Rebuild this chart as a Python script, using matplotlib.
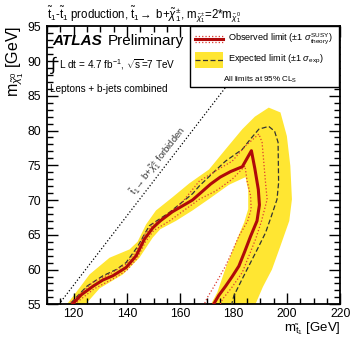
"""
ATLAS stop -> b + chargino exclusion limit (leptons + b-jets combined)
"""

import matplotlib
matplotlib.use("Agg")
import matplotlib.pyplot as plt
from matplotlib.patches import Polygon, Rectangle
from matplotlib.lines import Line2D
from matplotlib.ticker import MultipleLocator

# ==================== Data ====================

# yellow +-1 sigma expected band (closed outline)
band_x = [117.5, 122.3, 126.0, 133.5, 141.0, 144.0, 147.2, 150.9, 157.1, 163.4, 170.8,
          177.0, 183.3, 188.0, 193.2, 197.6, 200.0, 201.3, 201.9, 200.9, 197.5, 194.4,
          191.0, 188.2, 171.5, 173.9, 177.0, 182.0, 184.0, 185.5, 185.5, 184.5, 178.3,
          171.0, 164.6, 158.4, 152.5, 149.7, 144.7, 138.5, 129.8, 124.5]
band_y = [55.0, 57.4, 59.3, 61.7, 62.9, 64.0, 66.5, 68.5, 70.4, 72.4, 74.4,
          77.3, 80.2, 82.0, 83.3, 82.6, 79.2, 74.9, 70.1, 67.0, 63.3, 60.0,
          57.5, 55.0, 55.0, 56.7, 60.2, 65.0, 66.8, 68.7, 71.4, 73.3, 72.2,
          70.2, 68.5, 67.0, 65.8, 64.6, 61.7, 59.3, 57.3, 55.0]

# expected limit (dashed)
exp_x = [119.0, 125.0, 131.0, 136.0, 139.7, 144.0, 148.4, 155.9, 164.6, 167.1, 173.9,
         177.0, 183.3, 186.4, 189.5, 193.2, 195.4, 196.7, 196.9, 196.3, 194.2, 192.0,
         188.9, 185.7, 182.8, 180.1, 179.3]
exp_y = [55.2, 57.6, 59.1, 60.0, 61.0, 63.3, 66.3, 68.2, 70.9, 72.0, 74.5,
         75.6, 77.3, 78.8, 80.2, 80.6, 79.9, 78.3, 72.5, 70.1, 67.7, 65.3,
         62.9, 60.5, 58.3, 56.2, 55.0]

# observed limit (thick red)
obs_x = [119.5, 123.0, 127.3, 131.0, 134.7, 139.7, 143.5, 146.6, 149.7, 152.5, 157.0,
         164.6, 171.4, 175.0, 178.9, 183.3, 186.7, 188.0, 189.3, 189.7, 188.8, 186.4,
         184.2, 182.0, 179.5, 177.0, 174.5, 172.5]
obs_y = [55.0, 56.4, 57.6, 58.5, 59.1, 60.3, 62.0, 64.4, 66.0, 67.0, 68.3,
         70.0, 72.3, 73.3, 74.1, 74.8, 77.1, 74.5, 71.5, 69.3, 67.0, 64.8,
         62.6, 60.5, 59.0, 57.6, 56.3, 55.0]

# observed -1 sigma theory (dotted)
lo_x = [120.3, 127.6, 135.0, 140.0, 143.8, 147.0, 150.0, 156.0, 164.6, 167.1, 173.3,
        179.5, 184.3, 185.1, 186.4, 186.6, 185.3, 182.0, 179.5, 177.0, 174.5, 172.1,
        170.2, 169.0]
lo_y = [55.0, 57.2, 58.7, 59.9, 61.6, 64.0, 65.6, 67.0, 69.4, 70.1, 71.3,
        73.0, 74.9, 72.7, 70.6, 68.7, 67.0, 64.8, 62.6, 60.5, 58.8, 57.2,
        56.0, 55.0]

# observed +1 sigma theory (dotted)
hi_x = [119.0, 127.0, 134.7, 139.7, 143.3, 146.4, 149.6, 155.9, 161.0, 167.1, 173.3,
        179.5, 184.5, 189.5, 190.7, 192.0, 192.6, 190.5, 188.3, 185.8, 183.3, 179.5,
        175.8, 175.0]
hi_y = [55.3, 58.1, 59.6, 60.8, 62.5, 64.9, 66.5, 68.0, 69.8, 72.7, 74.2,
        75.6, 77.8, 79.5, 78.3, 72.5, 70.1, 67.0, 64.4, 62.0, 59.6, 57.5,
        55.7, 55.0]

# kinematic limit line
forbid_x = [114.5, 185.0]
forbid_y = [55.0, 90.2]

# ==================== Style ====================

plt.rcParams['font.family'] = ['Liberation Sans', 'DejaVu Sans']
plt.rcParams['mathtext.fontset'] = 'custom'
plt.rcParams['mathtext.rm'] = 'Liberation Sans'
plt.rcParams['mathtext.it'] = 'Liberation Sans:italic'
plt.rcParams['mathtext.bf'] = 'Liberation Sans:bold'

YELLOW = '#ffe632'
RED = '#b00a0a'
DOT_RED = '#dc3a30'

fig = plt.figure(figsize=(3.5, 3.37), dpi=100)
ax = fig.add_axes([0.134, 0.097, 0.838, 0.825])

ax.add_patch(Polygon(list(zip(band_x, band_y)), closed=True, facecolor=YELLOW,
                     edgecolor='none', zorder=1))
ax.plot(exp_x, exp_y, color='#333333', lw=0.9, dashes=(4, 2), zorder=3)
ax.plot(lo_x, lo_y, color=DOT_RED, lw=0.9, ls=':', zorder=3)
ax.plot(hi_x, hi_y, color=DOT_RED, lw=0.9, ls=':', zorder=3)
ax.plot(obs_x, obs_y, color=RED, lw=2.2, zorder=4)
ax.plot(forbid_x, forbid_y, color='black', lw=0.9, ls=':', zorder=2)

ax.text(151.8, 75.5, r'$\tilde{\mathrm{t}}_1\!\rightarrow\!$ b+$\tilde{\chi}^{\pm}_1$ forbidden',
        rotation=52, ha='center', va='center', fontsize=6.8, color='#333333')

ax.set_xlim(110, 220)
ax.set_ylim(55, 95)
ax.xaxis.set_major_locator(MultipleLocator(20))
ax.xaxis.set_minor_locator(MultipleLocator(5))
ax.yaxis.set_major_locator(MultipleLocator(5))
ax.yaxis.set_minor_locator(MultipleLocator(1))
ax.tick_params(which='both', direction='in', top=True, right=True, labelsize=8.8, width=1)
ax.tick_params(which='major', length=8, pad=4)
ax.tick_params(axis='x', which='major', pad=3)
ax.tick_params(which='minor', length=4)
for s in ax.spines.values():
    s.set_linewidth(1.3)

ax.set_xlabel(r'm$_{\tilde{\mathrm{t}}_1}$ [GeV]', fontsize=9.5, ha='right')
ax.xaxis.set_label_coords(1.0, -0.058)
ax.set_ylabel(r'm$_{\tilde{\chi}^0_1}$ [GeV]', fontsize=11.5, loc='top', labelpad=1)

fig.text(0.134, 0.958, r'$\tilde{\mathrm{t}}_1$-$\tilde{\mathrm{t}}_1$ production, '
         r'$\tilde{\mathrm{t}}_1\!\rightarrow$ b+$\tilde{\chi}^{\pm}_1$, '
         r'm$_{\tilde{\chi}^{\pm}_1}$=2*m$_{\tilde{\chi}^0_1}$', fontsize=8.3, va='center')

# ATLAS label block
ax.text(0.02, 0.932, 'ATLAS', transform=ax.transAxes, fontsize=11,
        fontweight='bold', fontstyle='italic', va='baseline')
ax.text(0.207, 0.932, 'Preliminary', transform=ax.transAxes, fontsize=11, va='baseline')
ax.text(0.012, 0.862, r'$\int$', transform=ax.transAxes, fontsize=13, va='center')
ax.text(0.042, 0.862, r'L dt = 4.7 fb$^{-1}$, $\sqrt{\mathrm{s}}$=7 TeV',
        transform=ax.transAxes, fontsize=7.2, va='center')
ax.text(0.012, 0.774, 'Leptons + b-jets combined', transform=ax.transAxes,
        fontsize=7.2, va='center')

# legend box
ax.add_patch(Rectangle((0.487, 0.781), 0.508, 0.219, transform=ax.transAxes,
                       facecolor='white', edgecolor='black', lw=1.0, zorder=6))
ax.add_line(Line2D([0.504, 0.599], [0.965, 0.965], transform=ax.transAxes,
                   color=DOT_RED, lw=0.9, ls=':', zorder=7))
ax.add_line(Line2D([0.504, 0.599], [0.943, 0.943], transform=ax.transAxes,
                   color=DOT_RED, lw=0.9, ls=':', zorder=7))
ax.add_line(Line2D([0.504, 0.599], [0.954, 0.954], transform=ax.transAxes,
                   color=RED, lw=2.2, zorder=7))
ax.add_patch(Rectangle((0.504, 0.849), 0.095, 0.06, transform=ax.transAxes,
                       facecolor=YELLOW, edgecolor='none', zorder=7))
ax.add_line(Line2D([0.504, 0.599], [0.879, 0.879], transform=ax.transAxes,
                   color='#333333', lw=0.9, dashes=(4, 2), zorder=8))
ax.text(0.617, 0.954, r'Observed limit ($\pm$1 $\sigma^{\mathrm{SUSY}}_{\mathrm{theory}}$)',
        transform=ax.transAxes, fontsize=6.6, va='center', zorder=8)
ax.text(0.617, 0.879, r'Expected limit ($\pm$1 $\sigma_{\mathrm{exp}}$)',
        transform=ax.transAxes, fontsize=6.6, va='center', zorder=8)
ax.text(0.728, 0.808, r'All limits at 95% CL$_{\mathrm{S}}$',
        transform=ax.transAxes, fontsize=5.8, ha='center', va='center', zorder=8)

fig.savefig('out.png', dpi=100)
